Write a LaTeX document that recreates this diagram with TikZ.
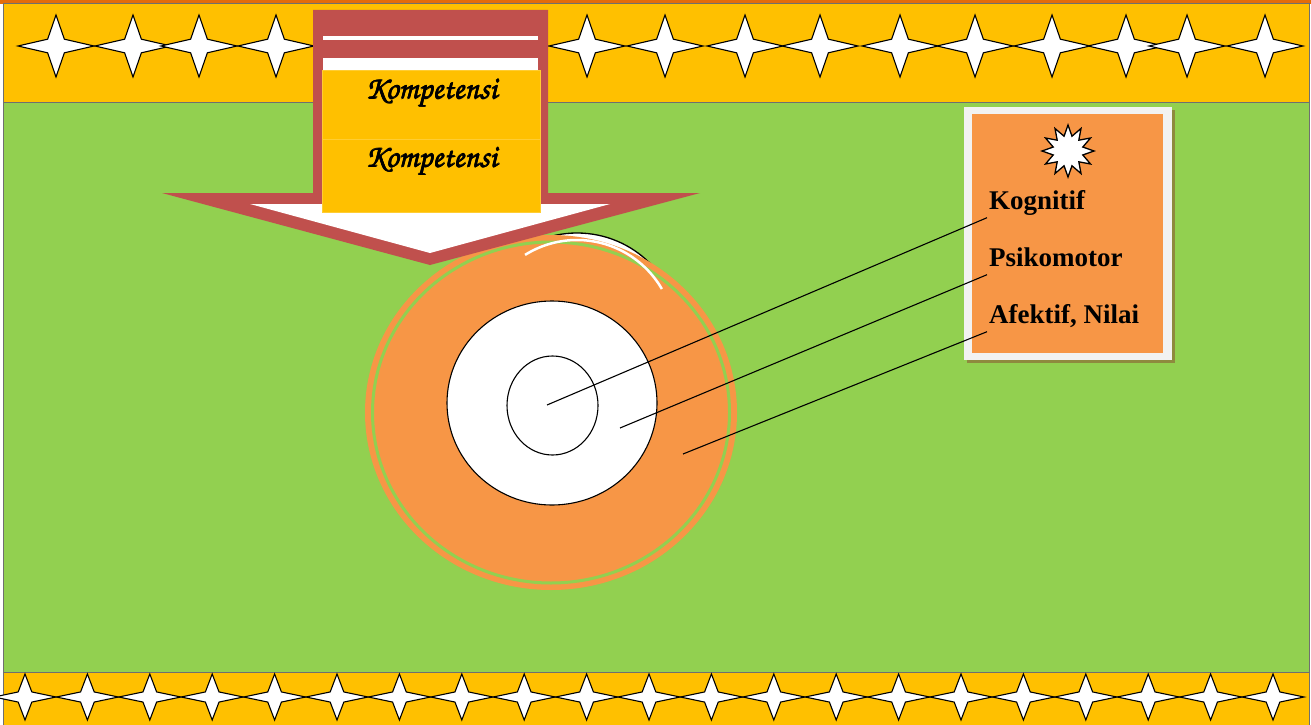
\documentclass[tikz,border=0pt]{standalone}
\usepackage[T1]{fontenc}
\usepackage{fontspec}
\setmainfont{Liberation Serif}
\usetikzlibrary{shapes.geometric}
\definecolor{grn}{HTML}{92D050}
\definecolor{ylw}{HTML}{FFC000}
\definecolor{org}{HTML}{F79646}
\definecolor{dorg}{HTML}{E46C0A}
\definecolor{rd}{HTML}{C0504D}
\definecolor{bordergray}{HTML}{6F6F6F}
\definecolor{shadowol}{HTML}{8E8A3E}
\definecolor{boxgray}{HTML}{F2F2F2}
\newcommand\chanceryfont{\fontencoding{T1}\fontfamily{pzc}\selectfont}
\newcommand\fourstar[5]{% cx, cy, a, b
  \filldraw[fill=white,draw=black,line width=1.1bp,line join=miter]
    (#1-#3,#2) -- (#1-0.22*#3,#2-0.22*#4) -- (#1,#2-#4) -- (#1+0.22*#3,#2-0.22*#4)
    -- (#1+#3,#2) -- (#1+0.22*#3,#2+0.22*#4) -- (#1,#2+#4) -- (#1-0.22*#3,#2+0.22*#4) -- cycle;}
\newcommand\boldscript[1]{\makebox[0pt][l]{\hspace{0.5bp}#1}\makebox[0pt][l]{\raisebox{0.4bp}{#1}}\makebox[0pt][l]{\hspace{0.3bp}\raisebox{-0.3bp}{#1}}#1}
\tikzset{
  kbox/.style={fill=ylw,draw=ylw!80!white,line width=0.6bp,minimum width=218bp,inner sep=0pt},
  ktext/.style={inner sep=0pt,anchor=base,font=\chanceryfont\fontsize{32bp}{32bp}\selectfont},
  lbl/.style={anchor=west,inner sep=2bp,text height=19bp,text depth=6bp,
     font=\fontsize{27bp}{27bp}\selectfont\bfseries},
  conn/.style={draw=black,line width=1.1bp},
}
\begin{document}
\begin{tikzpicture}[x=1bp,y=-1bp]
\useasboundingbox (0,0) rectangle (1311,724);
\fill[white] (0,0) rectangle (1311,724);
% bands
\fill[dorg] (0,0) rectangle (1311,4);
\draw[fill=ylw,draw=bordergray,line width=1bp] (3,4) rectangle (1309,103);
\draw[fill=grn,draw=bordergray,line width=1bp] (3,103) rectangle (1309,672);
\draw[fill=ylw,draw=bordergray,line width=1bp] (3,672) rectangle (1309,728);
% top stars
\foreach \cx in {56,133,199,276,354,432,509,587,665,745,820,900,975,1052,1126,1187,1265}
  {\fourstar{\cx}{46}{38}{31}{}}
% bottom stars
\foreach \i in {0,...,20}
  {\pgfmathsetmacro\cx{25+62.4*\i}\fourstar{\cx}{697}{31}{23}{}}
% circles
\filldraw[fill=white,draw=black,line width=1.3bp] (577,336) circle[radius=103];
\fill[org] (551,412.5) ellipse[x radius=186,y radius=177.5];
\draw[grn,line width=3bp] (551,412.5) ellipse[x radius=178.5,y radius=170.5];
\draw[white,line width=2.5bp] (577,338) ++(-122:98) arc[start angle=-122,end angle=-30,radius=98];
\filldraw[fill=white,draw=black,line width=1.1bp] (552,403) ellipse[x radius=105,y radius=102];
\draw[black,line width=1.1bp] (552.5,405.5) ellipse[x radius=45.5,y radius=49.5];
% arrow
\fill[rd] (313,10) -- (548,10) -- (548,193) -- (700,193) -- (430,265) -- (162,193) -- (313,193) -- cycle;
\fill[white] (250,204) -- (610,204) -- (430,253) -- cycle;
\fill[white] (323,36) rectangle (538,40);
\fill[white] (323,58) rectangle (538,70);
\node[kbox,minimum height=69bp] (k1) at (431,104.5) {};
\node[kbox,minimum height=73bp] (k2) at (431,175.5) {};
\node[ktext] (t1) at (431,99) {\boldscript{Kompetensi}};
\node[ktext] (t2) at (431,167) {\boldscript{Kompetensi}};
% label box
\fill[shadowol] (967,110) rectangle (1175,363);
\fill[boxgray] (964,107) rectangle (1172,360);
\fill[org] (972,114) rectangle (1163,353);
\node[star,star points=12,star point ratio=1.7,minimum size=52bp,inner sep=0pt,
      fill=white,draw=black,line width=1.3bp] (burst) at (1068,151) {};
\node[lbl] (kog) at (987,203) {Kognitif};
\node[lbl] (psi) at (987,260) {Psikomotor};
\node[lbl] (afe) at (987,317) {Afektif, Nilai};
% connectors
\coordinate (c1) at (547,405);
\coordinate (c2) at (620,428);
\coordinate (c3) at (683,454);
\draw[conn] (c1) -- (kog.south west);
\draw[conn] (c2) -- (psi.south west);
\draw[conn] (c3) -- (afe.south west);
\end{tikzpicture}
\end{document}
